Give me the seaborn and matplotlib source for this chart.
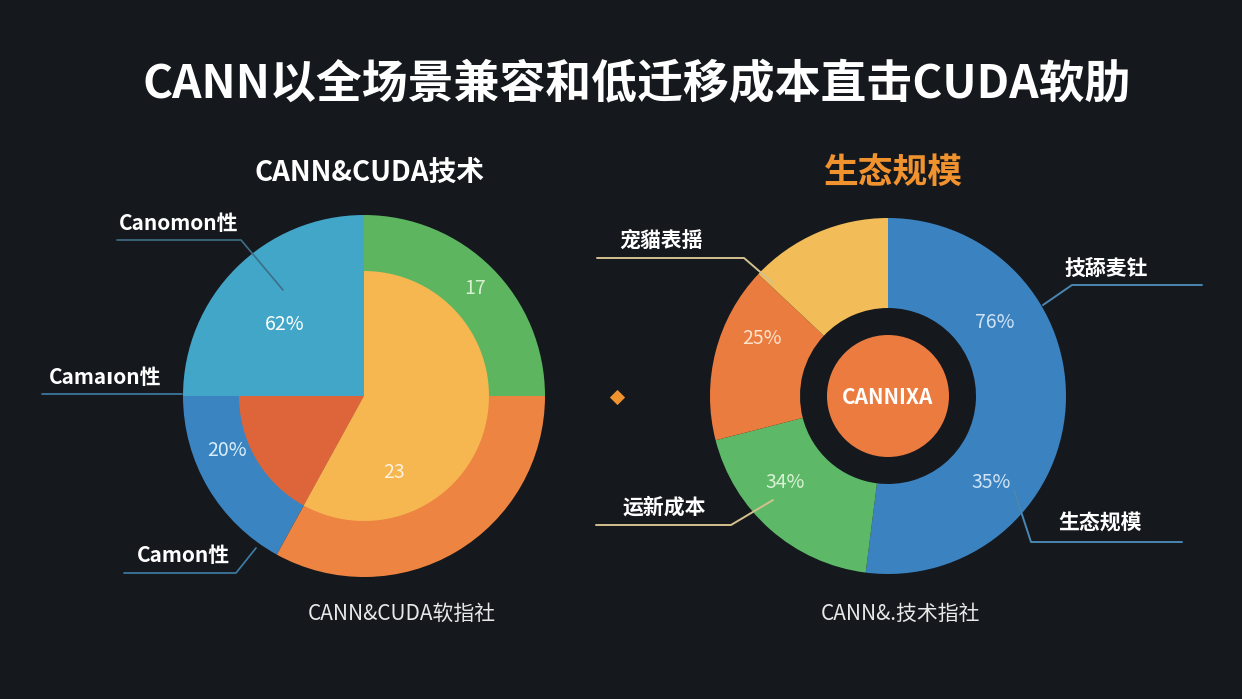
import matplotlib
matplotlib.use("Agg")
import matplotlib.pyplot as plt
import seaborn as sns

# ---------------- data ----------------
title = "CANN以全场景兼容和低迁移成本直击CUDA软肋"
left_title = "CANN&CUDA技术"
right_title = "生态规模"
left_footer = "CANN&CUDA软指社"
right_footer = "CANN&.技术指社"

# left chart: outer ring shares (counter-clockwise from 3 o'clock)
left_outer_names = ["green", "lightblue", "darkblue", "orange"]
left_outer_values = [25, 25, 17, 33]
# left chart: inner circle shares (counter-clockwise from 12 o'clock); first is open
left_inner_names = ["open", "red", "yellow"]
left_inner_values = [25, 17, 58]
left_value_labels = ["62%", "17", "20%", "23"]
left_category_labels = ["Canomon性", "Camaıon性", "Camon性"]

# right chart: donut shares (clockwise from 12 o'clock)
right_names = ["blue", "green", "orange", "yellow"]
right_values = [52, 19, 16, 13]
right_value_labels = ["76%", "35%", "25%", "34%"]
right_category_labels = ["宠貓表揺", "技舔麦钍", "运新成本", "生态规模"]
right_center_label = "CANNIXA"

# ---------------- style ----------------
sns.set_theme(style="dark")
BG = "#15191d"
plt.rcParams["font.family"] = ["Noto Sans CJK SC", "DejaVu Sans"]

W, H = 1242, 699
fig = plt.figure(figsize=(W / 100, H / 100), dpi=100, facecolor=BG)
ax = fig.add_axes([0, 0, 1, 1])
ax.set_facecolor(BG)


def Y(y):
    return H - y


left_colors = {"green": "#5db55f", "lightblue": "#41a6c8", "darkblue": "#3a84c1",
               "orange": "#ee8441", "open": "none", "red": "#de653a", "yellow": "#f6b650"}
right_colors = {"blue": "#3b82c0", "green": "#5db867", "orange": "#eb7c3f", "yellow": "#f2bc58"}

# ---------------- left chart ----------------
lc = (364, Y(396))
ax.pie(left_outer_values, colors=[left_colors[n] for n in left_outer_names],
       startangle=0, counterclock=True, radius=181, center=lc,
       wedgeprops=dict(linewidth=0, edgecolor="none"))
w_in, _ = ax.pie(left_inner_values, colors=[left_colors[n] for n in left_inner_names],
                 startangle=90, counterclock=True, radius=125, center=lc,
                 wedgeprops=dict(linewidth=0, edgecolor="none"))
for w, n in zip(w_in, left_inner_names):
    if n == "open":
        w.set_visible(False)

# ---------------- right chart ----------------
rc = (888, Y(396))
ax.pie(right_values, colors=[right_colors[n] for n in right_names],
       startangle=90, counterclock=False, radius=178, center=rc,
       wedgeprops=dict(width=90, linewidth=0, edgecolor="none"))
ax.add_patch(plt.Circle(rc, 61, color="#ec7b40", lw=0))

ax.set_xlim(0, W)
ax.set_ylim(0, H)
ax.set_aspect("auto")
ax.axis("off")

# ---------------- texts ----------------
ax.text(637, Y(85), title, ha="center", va="center", color="white",
        fontsize=33, fontweight="bold")
ax.text(370, Y(173), left_title, ha="center", va="center", color="white",
        fontsize=20, fontweight="bold")
ax.text(893, Y(172), right_title, ha="center", va="center", color="#f0922e",
        fontsize=25, fontweight="bold")
ax.text(402, Y(614), left_footer, ha="center", va="center", color="#e8e8e8", fontsize=15)
ax.text(900, Y(614), right_footer, ha="center", va="center", color="#e8e8e8", fontsize=15)

# value labels
lv_pos = [(285, 324), (475, 288), (227, 451), (394, 472)]
lv_col = ["#ffffff", "#d8f0d2", "#d7eefa", "#fff1de"]
for t, (x, y), c in zip(left_value_labels, lv_pos, lv_col):
    ax.text(x, Y(y), t, ha="center", va="center", color=c, fontsize=14)

rv_pos = [(995, 323), (991, 482), (762, 339), (785, 482)]
rv_col = ["#cfe3f5", "#cfe3f5", "#fde3cc", "#d9f2d6"]
for t, (x, y), c in zip(right_value_labels, rv_pos, rv_col):
    ax.text(x, Y(y), t, ha="center", va="center", color=c, fontsize=14)

ax.text(888, Y(397), right_center_label, ha="center", va="center", color="white",
        fontsize=15, fontweight="bold")

# category labels + leader lines
blue_line = "#3f7fa8"
gold_line = "#d4c08e"
lc_pos = [(179, 224), (105, 378), (183, 556)]
for t, (x, y) in zip(left_category_labels, lc_pos):
    ax.text(x, Y(y), t, ha="center", va="center", color="white", fontsize=15,
            fontweight="bold")
ax.plot([117, 241, 283], [Y(240), Y(240), Y(290)], color="#3d6f88", lw=1.2)
ax.plot([42, 182], [Y(394), Y(394)], color=blue_line, lw=1.2)
ax.plot([124, 236, 256], [Y(573), Y(573), Y(548)], color=blue_line, lw=1.2)

rc_pos = [(661, 240), (1106, 268), (664, 507), (1100, 523)]
for t, (x, y) in zip(right_category_labels, rc_pos):
    ax.text(x, Y(y), t, ha="center", va="center", color="white", fontsize=15,
            fontweight="bold")
ax.plot([597, 744, 773], [Y(258), Y(258), Y(283)], color=gold_line, lw=1.4)
ax.plot([1202, 1072, 1043], [Y(285), Y(285), Y(305)], color="#4a86b0", lw=1.4)
ax.plot([1014, 1031, 1182], [Y(490), Y(542), Y(542)], color="#4a86b0", lw=1.4)
ax.plot([596, 731, 773], [Y(525), Y(525), Y(500)], color=gold_line, lw=1.4)

ax.scatter([617], [Y(397)], marker="D", s=60, color="#f0922e", lw=0)

fig.savefig("out.png", dpi=100, facecolor=BG)
